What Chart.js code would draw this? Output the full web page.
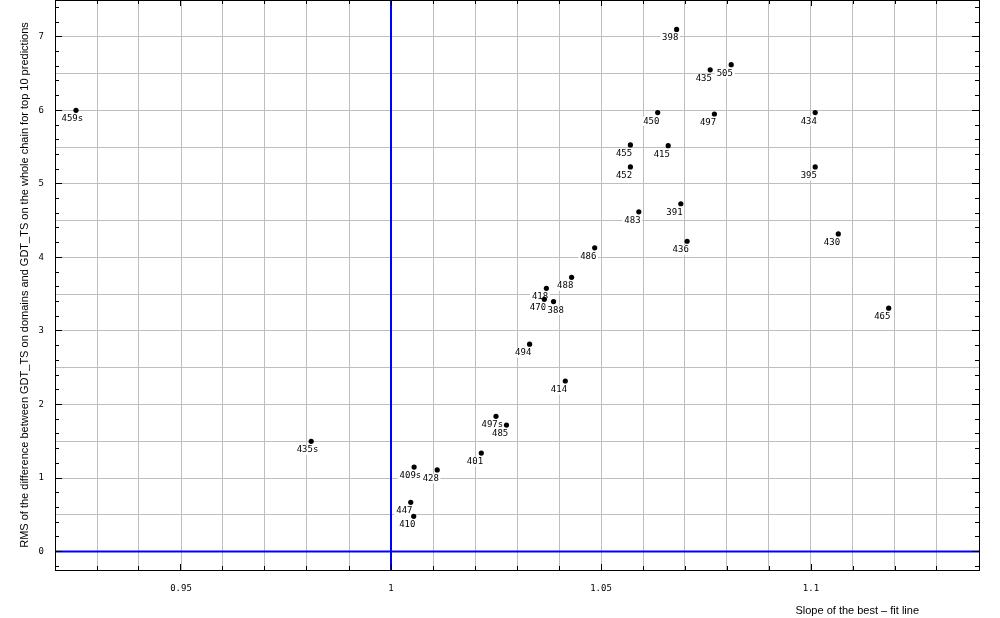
<!DOCTYPE html>
<html><head><meta charset="utf-8">
<script src="https://cdn.jsdelivr.net/npm/chart.js@4/dist/chart.umd.min.js"></script>
<style>html,body{margin:0;padding:0;background:#fff;overflow:hidden}#wrap{width:1000px;height:618px}</style>
</head><body><div id="wrap"><canvas id="c" width="1000" height="618"></canvas></div>
<script>
// ---- data ----
const targets   = ['459s','398','435','505','450','497','434','455','415','452','395','483','391','486','436','430','488','418','470','388','465','494','414','497s','485','435s','401','409s','428','447','410'];
const slopes    = [0.925,1.068,1.076,1.081,1.0635,1.077,1.101,1.057,1.066,1.057,1.101,1.059,1.069,1.0485,1.0705,1.1065,1.043,1.037,1.0365,1.0387,1.1185,1.033,1.0415,1.025,1.0275,0.981,1.0215,1.0055,1.011,1.0047,1.0054];
const rmsValues = [6.00,7.10,6.55,6.62,5.97,5.95,5.97,5.53,5.52,5.23,5.23,4.62,4.73,4.13,4.22,4.32,3.73,3.58,3.43,3.40,3.31,2.82,2.32,1.84,1.72,1.50,1.34,1.15,1.11,0.67,0.48];
const xTickLabels = ['0.95','1','1.05','1.1'];
const yTickLabels = ['0','1','2','3','4','5','6','7'];
const xRange = [0.92, 1.14];
const yRange = [-0.25, 7.5];
const refSlope = 1;
const refRms = 0;
const xTitle = 'Slope of the best \u2013 fit line';
const yTitle = 'RMS of the difference between GDT_TS on domains and GDT_TS on the whole chain for top 10 predictions';

const points = slopes.map((s, i) => ({x: s, y: rmsValues[i]}));
const monoFont = '"DejaVu Sans Mono", monospace';
const sansFont = '"Liberation Sans", Arial, sans-serif';

const labelPlugin = {
  id: 'pointLabels',
  beforeDatasetsDraw(chart) {
    const ctx = chart.ctx;
    const meta = chart.getDatasetMeta(0);
    ctx.save();
    ctx.font = '9px ' + monoFont;
    ctx.textAlign = 'left';
    ctx.textBaseline = 'alphabetic';
    const placed = [];
    meta.data.forEach((el, i) => {
      const t = targets[i];
      const w = ctx.measureText(t).width;
      let tx = el.x - 14.5;
      const y0 = el.y + 4, y1 = el.y + 11.5;
      // simple collision avoidance: push right past an overlapping label
      let moved = true;
      while (moved) {
        moved = false;
        for (const r of placed) {
          if (tx < r.x1 - 0.5 && tx + w > r.x0 + 0.5 && y0 < r.y1 && y1 > r.y0) {
            tx = r.x1 + 1.5; moved = true;
          }
        }
      }
      placed.push({x0: tx, x1: tx + w, y0, y1});
      ctx.fillStyle = '#ffffff';
      ctx.fillRect(tx - 2, el.y + 4, w + 3.5, 9.5);
      ctx.fillStyle = '#000000';
      ctx.fillText(t, tx, el.y + 11);
    });
    ctx.restore();
  }
};

const framePlugin = {
  id: 'frame',
  afterDatasetsDraw(chart) {
    const ctx = chart.ctx;
    const xs = chart.scales.x, ys = chart.scales.y;
    const {left, right, top, bottom} = chart.chartArea;
    const al = p => Math.round(p - 0.5) + 0.5;
    ctx.save();
    ctx.strokeStyle = '#000';
    ctx.lineWidth = 1;
    ctx.beginPath();
    for (let k = Math.ceil(xRange[0] * 100 - 1e-9); k <= Math.floor(xRange[1] * 100 + 1e-9); k++) {
      const px = al(xs.getPixelForValue(k / 100));
      const len = k % 5 === 0 ? 6 : 4;
      ctx.moveTo(px, bottom); ctx.lineTo(px, bottom - len);
      ctx.moveTo(px, top); ctx.lineTo(px, top + len);
    }
    for (let k = Math.ceil(yRange[0] * 5 - 1e-9); k <= Math.floor(yRange[1] * 5 + 1e-9); k++) {
      const py = al(ys.getPixelForValue(k / 5));
      const len = k % 5 === 0 ? 7 : 4;
      ctx.moveTo(left, py); ctx.lineTo(left + len, py);
      ctx.moveTo(right, py); ctx.lineTo(right - len, py);
    }
    ctx.stroke();
    ctx.strokeRect(left + 0.5, top + 0.5, right - left, bottom - top);
    // x-axis title
    ctx.fillStyle = '#000';
    ctx.font = '11px ' + sansFont;
    ctx.textAlign = 'right';
    ctx.textBaseline = 'alphabetic';
    ctx.fillText(xTitle, right - 60, 614);
    ctx.restore();
  }
};

new Chart(document.getElementById('c'), {
  type: 'scatter',
  data: {
    datasets: [
      {
        label: 'targets',
        data: points,
        backgroundColor: '#000',
        borderWidth: 0,
        pointRadius: 2.6,
        showLine: false
      },
      {
        label: 'slope = 1',
        data: [{x: refSlope, y: yRange[0]}, {x: refSlope, y: yRange[1]}],
        showLine: true,
        borderColor: '#0000ff',
        borderWidth: 2,
        pointRadius: 0
      },
      {
        label: 'rms = 0',
        data: [{x: xRange[0], y: refRms}, {x: xRange[1], y: refRms}],
        showLine: true,
        borderColor: '#0000ff',
        borderWidth: 2,
        pointRadius: 0
      }
    ]
  },
  options: {
    responsive: false,
    animation: false,
    devicePixelRatio: 1,
    layout: {autoPadding: false, padding: {top: 0, right: 21, left: 0, bottom: 0}},
    plugins: {legend: {display: false}, tooltip: {enabled: false}},
    scales: {
      x: {
        type: 'linear',
        min: xRange[0], max: xRange[1],
        afterFit: s => { s.height = 48; s.paddingLeft = 0; s.paddingRight = 0; },
        border: {display: false},
        grid: {color: '#bebebe', lineWidth: 1, drawTicks: false},
        ticks: {
          stepSize: 0.01,
          autoSkip: false,
          maxRotation: 0,
          padding: 13,
          color: '#000',
          font: {family: monoFont, size: 9},
          callback: v => {
            const s = String(Math.round(v * 100) / 100);
            return xTickLabels.includes(s) ? s : '';
          }
        },
        title: {display: false}
      },
      y: {
        type: 'linear',
        min: yRange[0], max: yRange[1],
        afterFit: s => { s.width = 55; s.paddingTop = 0; s.paddingBottom = 0; },
        border: {display: false},
        grid: {color: '#bebebe', lineWidth: 1, drawTicks: false},
        ticks: {
          stepSize: 0.5,
          autoSkip: false,
          padding: 11,
          color: '#000',
          font: {family: monoFont, size: 9},
          callback: v => {
            const s = String(Math.round(v * 100) / 100);
            return yTickLabels.includes(s) ? s : '';
          }
        },
        title: {
          display: true,
          text: yTitle,
          color: '#000',
          font: {family: 'Liberation Sans', size: 11},
          padding: {top: 18, bottom: 0}
        }
      }
    }
  },
  plugins: [labelPlugin, framePlugin]
});
</script>
</body></html>
